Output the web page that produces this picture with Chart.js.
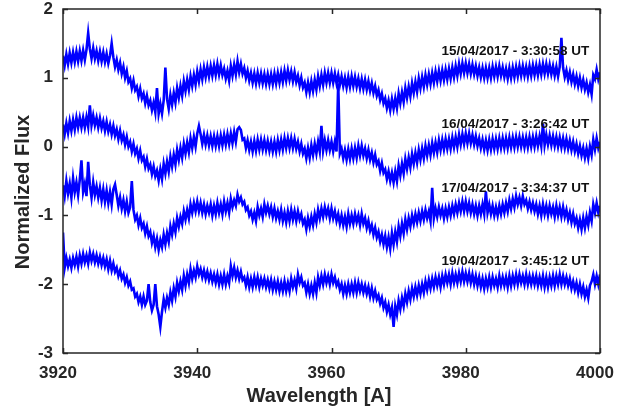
<!DOCTYPE html>
<html>
<head>
<meta charset="utf-8">
<script src="https://cdn.jsdelivr.net/npm/chart.js@4.4.0/dist/chart.umd.min.js"></script>
<style>
  html, body { margin: 0; padding: 0; background: #fff; }
  canvas { display: block; }
</style>
</head>
<body>
<canvas id="grafik" width="636" height="410"></canvas>
<script>
// wavelength grid of the spectra, 3920..4000 A at 0.25 A
var waveStart = 3920;
var waveStep = 0.25;

// normalized flux, offset per night, 5 A per row
var flux15 = [
  1.32, 1.18, 1.34, 1.20, 1.36, 1.22, 1.37, 1.23, 1.38, 1.24, 1.39, 1.25, 1.40, 1.26, 1.41, 1.65, 1.42, 1.28, 1.43, 1.28,
  1.39, 1.25, 1.38, 1.24, 1.37, 1.23, 1.35, 1.21, 1.32, 1.50, 1.30, 1.16, 1.26, 1.12, 1.22, 1.06, 1.16, 1.00, 1.10, 0.94,
  0.99, 0.85, 0.96, 0.82, 0.87, 0.73, 0.84, 0.70, 0.77, 0.63, 0.74, 0.60, 0.67, 0.53, 0.64, 0.50, 0.85, 0.48, 0.62, 0.48,
  0.67, 1.15, 0.69, 0.55, 0.75, 0.61, 0.78, 0.64, 0.85, 0.71, 0.88, 0.74, 0.95, 0.81, 0.97, 0.83, 1.02, 0.88, 1.04, 0.90,
  1.09, 0.95, 1.12, 0.98, 1.15, 1.01, 1.16, 1.02, 1.17, 1.03, 1.18, 1.04, 1.20, 1.05, 1.18, 1.04, 1.13, 0.99, 1.10, 0.96,
  1.17, 1.03, 1.19, 1.05, 1.24, 1.08, 1.20, 1.06, 1.14, 1.00, 1.10, 0.96, 1.07, 0.93, 1.06, 0.92, 1.07, 0.93, 1.06, 0.92,
  1.05, 0.91, 1.05, 0.91, 1.05, 0.91, 1.06, 0.92, 1.07, 0.93, 1.08, 0.94, 1.10, 0.96, 1.11, 0.97, 1.09, 0.95, 1.08, 0.94,
  1.03, 0.89, 1.00, 0.86, 0.93, 0.79, 0.93, 0.79, 0.95, 0.81, 0.97, 0.83, 1.02, 0.88, 1.04, 0.90, 1.07, 0.93, 1.07, 0.93,
  1.07, 0.93, 1.06, 0.92, 1.04, 0.90, 1.02, 0.88, 1.00, 0.86, 1.01, 0.87, 1.02, 0.88, 1.01, 0.87, 0.99, 0.85, 0.98, 0.84,
  0.97, 0.83, 0.95, 0.81, 0.92, 0.78, 0.88, 0.74, 0.82, 0.68, 0.77, 0.63, 0.70, 0.56, 0.67, 0.53, 0.69, 0.55, 0.70, 0.56,
  0.77, 0.63, 0.79, 0.65, 0.85, 0.71, 0.87, 0.73, 0.92, 0.78, 0.94, 0.80, 0.99, 0.85, 1.01, 0.87, 1.04, 0.90, 1.05, 0.91,
  1.07, 0.93, 1.09, 0.95, 1.10, 0.96, 1.11, 0.97, 1.12, 0.98, 1.13, 0.99, 1.15, 1.01, 1.17, 1.03, 1.20, 1.06, 1.21, 1.07,
  1.21, 1.07, 1.20, 1.06, 1.19, 1.05, 1.17, 1.03, 1.15, 1.01, 1.14, 1.00, 1.14, 1.00, 1.14, 1.00, 1.16, 1.02, 1.16, 1.02,
  1.17, 1.03, 1.15, 1.01, 1.13, 0.99, 1.14, 1.00, 1.15, 1.01, 1.16, 1.02, 1.17, 1.03, 1.17, 1.03, 1.16, 1.02, 1.17, 1.03,
  1.18, 1.04, 1.18, 1.04, 1.19, 1.05, 1.20, 1.06, 1.20, 1.06, 1.19, 1.05, 1.17, 1.03, 1.16, 1.02, 1.16, 1.58, 1.15, 1.01,
  1.11, 0.97, 1.08, 0.94, 1.05, 0.91, 1.02, 0.88, 1.00, 0.86, 0.97, 0.83, 0.93, 0.79, 0.90, 0.76, 1.04, 0.98, 1.12, 0.98,
  1.08
];
var flux16 = [
  0.32, 0.18, 0.34, 0.20, 0.37, 0.23, 0.39, 0.25, 0.42, 0.28, 0.42, 0.28, 0.42, 0.28, 0.43, 0.29, 0.60, 0.31, 0.45, 0.31,
  0.42, 0.28, 0.41, 0.27, 0.37, 0.23, 0.36, 0.22, 0.32, 0.18, 0.30, 0.16, 0.25, 0.11, 0.23, 0.09, 0.17, 0.03, 0.14, 0.00,
  0.07, -0.07, 0.04, -0.10, -0.03, -0.17, -0.06, -0.20, -0.15, -0.29, -0.18, -0.32, -0.26, -0.40, -0.29, -0.43, -0.35, -0.49, -0.33, -0.47,
  -0.25, -0.39, -0.22, -0.36, -0.15, -0.29, -0.12, -0.26, -0.05, -0.19, -0.02, -0.16, 0.04, -0.10, 0.06, -0.08, 0.12, -0.02, 0.14, 0.00,
  0.19, 0.30, 0.18, 0.04, 0.17, 0.03, 0.16, 0.02, 0.15, 0.01, 0.15, 0.01, 0.15, 0.01, 0.16, 0.02, 0.17, 0.03, 0.18, 0.04,
  0.19, 0.05, 0.21, 0.07, 0.25, 0.28, 0.24, 0.10, 0.12, -0.02, 0.09, -0.05, 0.07, -0.07, 0.08, -0.06, 0.10, -0.04, 0.10, -0.04,
  0.09, -0.05, 0.08, -0.06, 0.07, -0.07, 0.07, -0.07, 0.09, -0.05, 0.10, -0.04, 0.12, -0.02, 0.12, -0.02, 0.12, -0.02, 0.11, -0.03,
  0.07, -0.07, 0.04, -0.10, -0.03, -0.17, -0.02, -0.16, 0.02, -0.12, 0.04, -0.10, 0.07, -0.07, 0.30, -0.06, 0.09, -0.05, 0.09, -0.05,
  0.07, -0.07, 0.07, -0.07, 0.92, -0.10, -0.03, -0.17, -0.05, -0.19, -0.04, -0.18, -0.03, -0.17, -0.02, -0.16, 0.01, -0.13, 0.01, -0.13,
  -0.03, -0.17, -0.05, -0.19, -0.09, -0.23, -0.12, -0.26, -0.21, -0.35, -0.24, -0.38, -0.33, -0.47, -0.36, -0.50, -0.38, -0.52, -0.36, -0.50,
  -0.28, -0.42, -0.25, -0.39, -0.18, -0.32, -0.16, -0.30, -0.11, -0.25, -0.09, -0.23, -0.05, -0.19, -0.03, -0.17, 0.01, -0.13, 0.02, -0.12,
  0.05, -0.09, 0.06, -0.08, 0.09, -0.05, 0.10, -0.04, 0.11, -0.03, 0.11, -0.03, 0.13, -0.01, 0.14, 0.00, 0.17, 0.03, 0.18, 0.04,
  0.19, 0.05, 0.19, 0.05, 0.17, 0.03, 0.15, 0.01, 0.12, -0.02, 0.10, -0.04, 0.09, -0.05, 0.10, -0.04, 0.11, -0.03, 0.11, -0.03,
  0.12, -0.02, 0.12, -0.02, 0.12, -0.02, 0.13, -0.01, 0.13, -0.01, 0.14, 0.00, 0.14, 0.00, 0.13, -0.01, 0.13, -0.01, 0.14, 0.00,
  0.14, 0.00, 0.15, 0.01, 0.15, 0.01, 0.33, 0.02, 0.17, 0.03, 0.16, 0.02, 0.15, 0.01, 0.14, 0.00, 0.13, -0.01, 0.12, -0.02,
  0.11, -0.03, 0.09, -0.05, 0.07, -0.07, 0.04, -0.10, 0.01, -0.13, -0.02, -0.16, -0.03, -0.17, 0.00, -0.12, 0.10, -0.04, 0.12, -0.02,
  0.07
];
var flux17 = [
  -0.56, -0.72, -0.50, -0.68, -0.54, -0.74, -0.46, -0.66, -0.52, -0.70, -0.48, -0.20, -0.66, -0.54, -0.72, -0.22, -0.56, -0.74, -0.52, -0.70,
  -0.58, -0.74, -0.60, -0.78, -0.62, -0.80, -0.64, -0.82, -0.66, -0.84, -0.62, -0.55, -0.70, -0.86, -0.74, -0.90, -0.78, -0.94, -0.80, -0.96,
  -0.88, -0.50, -0.92, -1.06, -1.00, -1.14, -1.04, -1.18, -1.12, -1.26, -1.16, -1.30, -1.24, -1.40, -1.30, -1.46, -1.34, -1.50, -1.36, -1.46,
  -1.28, -1.42, -1.26, -1.38, -1.16, -1.28, -1.12, -1.24, -1.04, -1.16, -1.02, -1.12, -0.94, -1.06, -0.92, -1.04, -0.84, -0.96, -0.82, -0.94,
  -0.80, -0.94, -0.82, -0.96, -0.84, -0.98, -0.86, -0.96, -0.84, -1.00, -0.86, -0.98, -0.82, -0.96, -0.84, -0.98, -0.80, -0.94, -0.82, -0.96,
  -0.76, -0.88, -0.78, -0.86, -0.70, -0.80, -0.74, -0.84, -0.80, -0.92, -0.88, -1.00, -0.94, -1.06, -0.96, -1.08, -0.88, -1.00, -0.90, -1.02,
  -0.84, -0.96, -0.86, -0.98, -0.88, -1.02, -0.90, -1.04, -0.94, -1.06, -0.92, -1.08, -0.96, -1.10, -0.94, -1.08, -0.92, -1.06, -0.94, -1.08,
  -0.94, -1.06, -0.98, -1.12, -1.06, -1.20, -1.04, -1.16, -1.02, -1.14, -0.98, -1.10, -0.92, -1.04, -0.90, -1.02, -0.88, -1.00, -0.90, -1.04,
  -0.90, -1.04, -0.94, -1.08, -0.98, -1.12, -1.00, -1.14, -1.02, -1.16, -0.98, -1.12, -1.00, -1.12, -0.98, -1.10, -1.00, -1.14, -0.98, -1.12,
  -1.04, -1.18, -1.08, -1.22, -1.14, -1.28, -1.18, -1.32, -1.24, -1.38, -1.28, -1.42, -1.30, -1.46, -1.32, -1.48, -1.26, -1.42, -1.24, -1.38,
  -1.16, -1.30, -1.12, -1.26, -1.06, -1.20, -1.04, -1.16, -1.00, -1.12, -0.98, -1.10, -0.96, -1.08, -0.94, -1.06, -0.92, -1.04, -0.94, -1.08,
  -0.60, -1.04, -0.90, -1.02, -0.88, -1.00, -0.90, -1.04, -0.90, -1.02, -0.88, -1.00, -0.86, -0.98, -0.84, -0.96, -0.82, -0.94, -0.80, -0.94,
  -0.80, -0.94, -0.82, -0.96, -0.84, -0.98, -0.86, -1.00, -0.86, -0.98, -0.84, -0.98, -0.65, -0.96, -0.84, -0.98, -0.86, -1.00, -0.88, -1.00,
  -0.86, -0.98, -0.84, -0.96, -0.82, -0.94, -0.78, -0.90, -0.76, -0.88, -0.72, -0.84, -0.74, -0.86, -0.72, -0.84, -0.78, -0.90, -0.80, -0.92,
  -0.82, -0.94, -0.84, -0.98, -0.86, -1.00, -0.84, -0.98, -0.86, -1.00, -0.86, -0.98, -0.88, -1.02, -0.86, -1.00, -0.88, -1.02, -0.88, -1.02,
  -0.92, -1.06, -0.96, -1.10, -0.98, -1.12, -1.04, -1.18, -1.06, -1.20, -1.04, -1.18, -1.02, -1.14, -0.96, -1.08, -0.84, -0.96, -0.82, -0.96,
  -0.86
];
var flux19 = [
  -1.25, -1.76, -1.62, -1.74, -1.64, -1.76, -1.62, -1.72, -1.60, -1.74, -1.58, -1.70, -1.56, -1.68, -1.58, -1.70, -1.54, -1.66, -1.56, -1.68,
  -1.58, -1.70, -1.60, -1.72, -1.62, -1.74, -1.64, -1.78, -1.66, -1.80, -1.70, -1.82, -1.76, -1.88, -1.80, -1.92, -1.86, -1.98, -1.90, -2.02,
  -1.96, -2.08, -2.06, -2.18, -2.14, -2.26, -2.18, -2.30, -2.18, -2.30, -2.24, -2.00, -2.26, -2.38, -2.30, -2.00, -2.32, -2.44, -2.62, -2.40,
  -2.22, -2.34, -2.20, -2.30, -2.12, -2.24, -2.06, -2.18, -1.98, -2.10, -1.96, -2.08, -1.88, -2.02, -1.86, -1.98, -1.78, -1.92, -1.80, -1.90,
  -1.74, -1.86, -1.78, -1.90, -1.80, -1.92, -1.82, -1.94, -1.84, -1.96, -1.86, -1.98, -1.86, -2.00, -1.88, -2.00, -1.86, -2.00, -1.88, -1.98,
  -1.74, -1.88, -1.76, -1.90, -1.80, -1.92, -1.82, -1.94, -1.90, -2.02, -1.90, -2.04, -1.92, -2.04, -1.90, -2.02, -1.90, -2.04, -1.92, -2.02,
  -1.92, -2.04, -1.94, -2.06, -1.94, -2.08, -1.96, -2.08, -1.96, -2.10, -1.98, -2.10, -1.96, -2.10, -1.98, -2.10, -1.92, -2.04, -1.94, -2.06,
  -1.86, -1.98, -1.90, -2.02, -1.98, -2.12, -2.00, -2.14, -2.02, -2.14, -1.98, -2.12, -1.90, -2.02, -1.88, -2.00, -1.86, -1.98, -1.88, -2.00,
  -1.86, -1.98, -1.90, -2.02, -1.96, -2.08, -2.00, -2.14, -2.02, -2.14, -2.00, -2.12, -2.00, -2.12, -1.98, -2.12, -1.98, -2.10, -2.00, -2.12,
  -2.02, -2.14, -2.04, -2.18, -2.06, -2.20, -2.10, -2.22, -2.16, -2.28, -2.20, -2.34, -2.26, -2.40, -2.30, -2.44, -2.34, -2.62, -2.32, -2.44,
  -2.24, -2.36, -2.20, -2.32, -2.14, -2.26, -2.10, -2.22, -2.06, -2.18, -2.04, -2.16, -2.02, -2.14, -2.00, -2.12, -1.96, -2.08, -1.94, -2.06,
  -1.92, -2.04, -1.90, -2.02, -1.90, -2.04, -1.88, -2.00, -1.86, -1.98, -1.86, -2.00, -1.84, -1.98, -1.86, -1.98, -1.84, -1.96, -1.82, -1.96,
  -1.84, -1.96, -1.84, -1.98, -1.86, -2.00, -1.88, -2.02, -1.90, -2.04, -1.92, -2.06, -1.92, -2.04, -1.90, -2.04, -1.90, -2.02, -1.92, -2.04,
  -1.88, -2.02, -1.90, -2.02, -1.90, -2.04, -1.88, -2.02, -1.88, -2.00, -1.86, -2.00, -1.86, -1.98, -1.88, -2.00, -1.86, -2.00, -1.88, -2.00,
  -1.88, -2.00, -1.88, -2.02, -1.90, -2.02, -1.88, -2.04, -1.90, -2.04, -1.90, -2.02, -1.88, -2.02, -1.88, -2.00, -1.86, -2.00, -1.88, -2.00,
  -1.90, -2.02, -1.92, -2.06, -1.96, -2.08, -1.98, -2.12, -2.00, -2.14, -2.04, -2.18, -2.08, -2.20, -2.02, -1.96, -1.86, -2.00, -1.88, -2.00,
  -1.86
];

var tanggal = [
  '15/04/2017 - 3:30:58 UT',
  '16/04/2017 - 3:26:42 UT',
  '17/04/2017 - 3:34:37 UT',
  '19/04/2017 - 3:45:12 UT'
];

var xTicks = [3920, 3940, 3960, 3980, 4000];
var yTicks = [-3, -2, -1, 0, 1, 2];

// where the date labels sit (data coords, right aligned)
var labelX = 3998.4;
var labelY = [1.38, 0.33, -0.61, -1.66];

var warnaSumbu = '#262626';
var huruf = "'Liberation Sans', Arial, Helvetica, sans-serif";

function toXY(arr) {
    return arr.map(function (v, i) {
        return { x: waveStart + i * waveStep, y: v };
    });
}

function garis(arr) {
    return {
        data: toXY(arr),
        borderColor: 'rgb(0, 0, 255)',
        borderWidth: 2.6,
        borderJoinStyle: 'miter',
        pointRadius: 0,
        tension: 0,
        fill: false
    };
}

// box round the plot, inward ticks, axis titles and the date labels
var kotak = {
    id: 'kotak',
    afterDatasetsDraw: function (chart) {
        var c = chart.ctx;
        var a = chart.chartArea;
        var sx = chart.scales.x;
        var sy = chart.scales.y;
        c.save();

        c.fillStyle = '#111';
        c.font = 'bold 13.5px ' + huruf;
        c.textAlign = 'right';
        c.textBaseline = 'middle';
        tanggal.forEach(function (t, i) {
            c.fillText(t, sx.getPixelForValue(labelX), sy.getPixelForValue(labelY[i]));
        });

        c.strokeStyle = warnaSumbu;
        c.lineWidth = 1.5;
        c.strokeRect(a.left, a.top, a.right - a.left, a.bottom - a.top);

        c.beginPath();
        xTicks.forEach(function (v) {
            var px = Math.round(sx.getPixelForValue(v)) + 0.5;
            c.moveTo(px, a.bottom);
            c.lineTo(px, a.bottom - 5);
            c.moveTo(px, a.top);
            c.lineTo(px, a.top + 5);
        });
        yTicks.forEach(function (v) {
            var py = Math.round(sy.getPixelForValue(v)) + 0.5;
            c.moveTo(a.left, py);
            c.lineTo(a.left + 5, py);
            c.moveTo(a.right, py);
            c.lineTo(a.right - 5, py);
        });
        c.stroke();

        // axis titles
        c.fillStyle = warnaSumbu;
        c.font = 'bold 20px ' + huruf;
        c.textAlign = 'center';
        c.textBaseline = 'alphabetic';
        c.fillText('Wavelength [A]', 319, 402);
        c.translate(29, 192);
        c.rotate(-Math.PI / 2);
        c.fillText('Normalized Flux', 0, 0);
        c.restore();
    }
};

var ctx = document.getElementById('grafik').getContext('2d');
var chart = new Chart(ctx, {
    type: 'line',
    data: {
        datasets: [garis(flux15), garis(flux16), garis(flux17), garis(flux19)]
    },
    options: {
        responsive: false,
        animation: false,
        devicePixelRatio: 1,
        layout: { padding: { left: 0, right: 36, top: 9, bottom: 0 } },
        plugins: {
            legend: { display: false },
            tooltip: { enabled: false }
        },
        scales: {
            x: {
                type: 'linear',
                min: 3920,
                max: 4000,
                afterBuildTicks: function (s) { s.ticks = xTicks.map(function (v) { return { value: v }; }); },
                afterFit: function (s) {
                    s.height = 57;
                    s.paddingLeft = 0;
                    s.paddingRight = 0;
                },
                grid: { display: false, drawTicks: false },
                border: { display: false },
                ticks: {
                    color: warnaSumbu,
                    padding: 10,
                    maxRotation: 0,
                    labelOffset: -5,
                    font: { family: huruf, size: 17, weight: 'bold' },
                    callback: function (v) { return String(v); }
                }
            },
            y: {
                min: -3,
                max: 2,
                afterBuildTicks: function (s) { s.ticks = yTicks.map(function (v) { return { value: v }; }); },
                afterFit: function (s) {
                    s.width = 63;
                    s.paddingTop = 0;
                    s.paddingBottom = 0;
                },
                grid: { display: false, drawTicks: false },
                border: { display: false },
                ticks: {
                    color: warnaSumbu,
                    padding: 10,
                    font: { family: huruf, size: 17, weight: 'bold' },
                    callback: function (v) { return String(v); }
                }
            }
        }
    },
    plugins: [kotak]
});
</script>
</body>
</html>
